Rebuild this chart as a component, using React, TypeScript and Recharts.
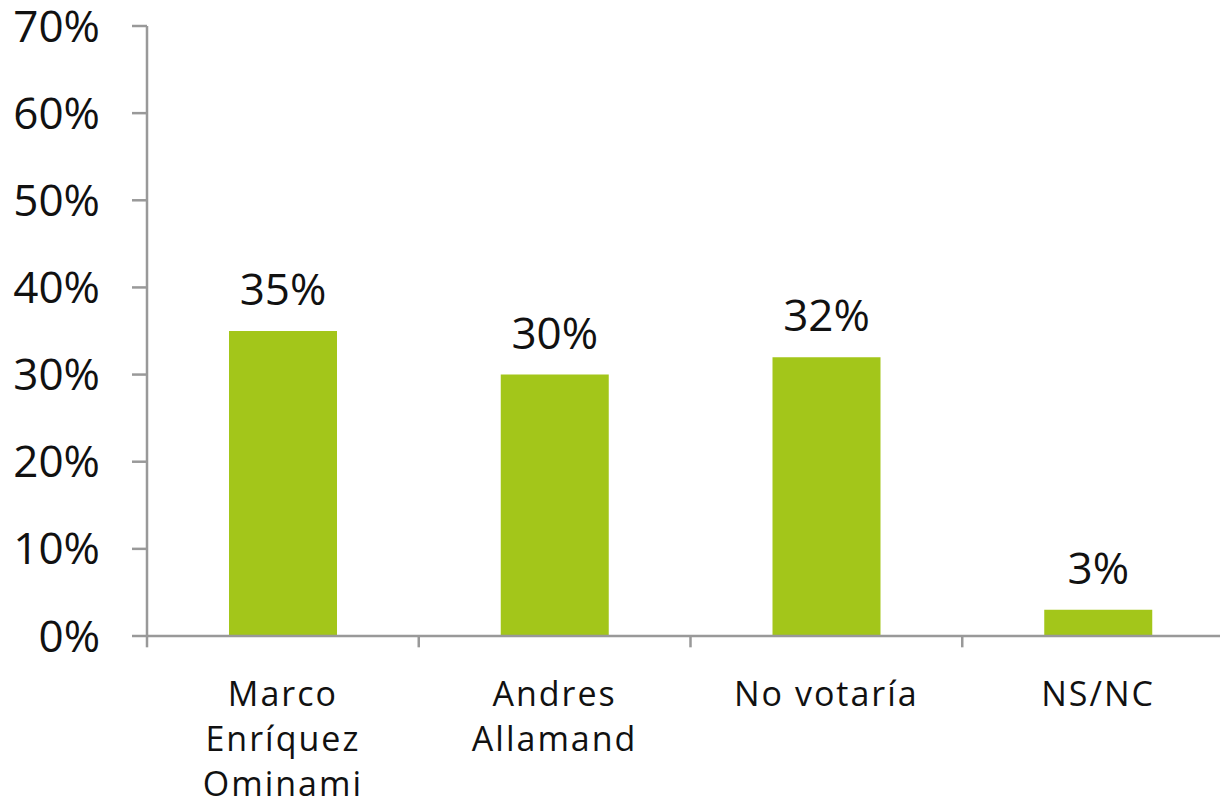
import { BarChart, Bar, XAxis, YAxis, LabelList, ReferenceLine } from 'recharts';

const categories = ['Marco\nEnríquez\nOminami', 'Andres\nAllamand', 'No votaría', 'NS/NC'];
const values = [35, 30, 32, 3];
const yTicks = [0, 10, 20, 30, 40, 50, 60, 70];

const data = categories.map((name, i) => ({ name, value: values[i] }));

const FONT = '"Open Sans", sans-serif';
const TEXT = '#111111';
const AXIS = '#999999';
const GREEN = '#A3C61A';

function CategoryTick({ x, y, payload }: any) {
  const lines = String(payload.value).split('\n');
  return (
    <text x={x} y={y} textAnchor="middle" fill={TEXT} fontFamily={FONT} fontSize={34} letterSpacing={2}>
      {lines.map((line, i) => (
        <tspan key={i} x={x} y={y + 70 + i * 45}>
          {line}
        </tspan>
      ))}
    </text>
  );
}

export default function App() {
  return (
    <div style={{ position: 'absolute', left: 0, top: 0, width: 1220, height: 803, overflow: 'hidden', background: '#fff' }}>
      <BarChart
        width={1234}
        height={803}
        data={data}
        margin={{ top: 26, right: 0, left: 0, bottom: 0 }}
        barSize={108}
      >
        <XAxis
          dataKey="name"
          height={167}
          tickLine={false}
          tickSize={0}
          tickMargin={0}
          axisLine={{ stroke: AXIS, strokeWidth: 2.5 }}
          tick={<CategoryTick />}
          interval={0}
        />
        <YAxis
          width={147}
          domain={[0, 70]}
          ticks={yTicks}
          tickFormatter={(v) => `${v}%`}
          tickSize={15}
          tickMargin={32}
          axisLine={{ stroke: AXIS, strokeWidth: 2.5 }}
          tickLine={{ stroke: AXIS, strokeWidth: 2.5 }}
          tick={{ fill: TEXT, fontFamily: FONT, fontSize: 44 }}
        />
        {categories.map((c) => (
          <ReferenceLine
            key={c}
            position="start"
            ifOverflow="visible"
            segment={[{ x: c, y: 0 }, { x: c, y: -1.3 }]}
            stroke={AXIS}
            strokeWidth={2.5}
          />
        ))}
        <Bar dataKey="value" fill={GREEN} isAnimationActive={false}>
          <LabelList
            dataKey="value"
            position="top"
            offset={26}
            formatter={(v: any) => `${v}%`}
            fill={TEXT}
            fontFamily={FONT}
            fontSize={44}
          />
        </Bar>
      </BarChart>
    </div>
  );
}
